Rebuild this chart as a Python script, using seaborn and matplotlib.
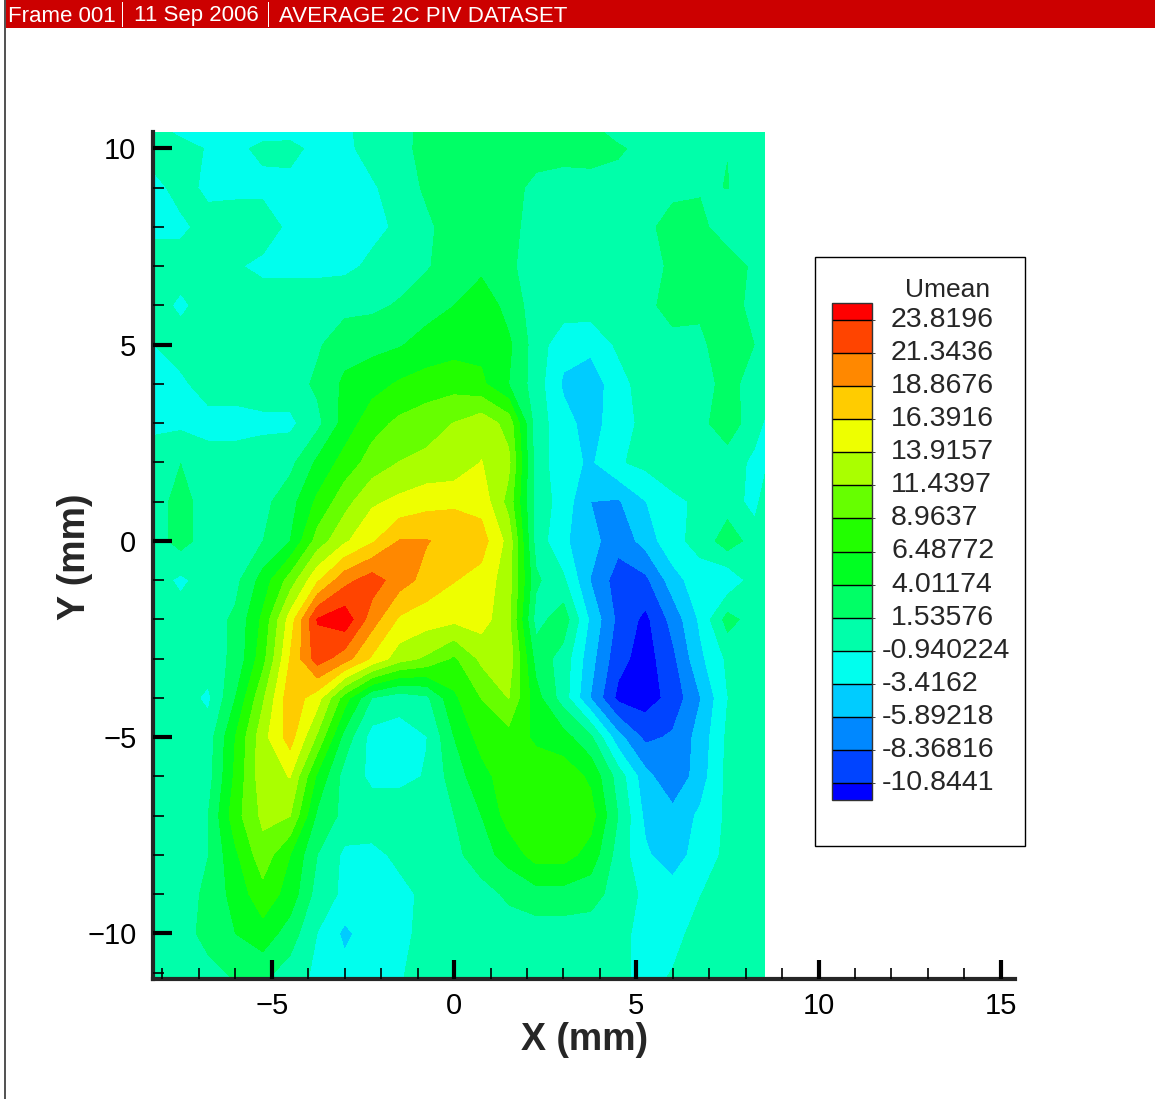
import numpy as np
import seaborn as sns
import matplotlib.pyplot as plt
from matplotlib.colors import ListedColormap, BoundaryNorm
from matplotlib.patches import Rectangle
from matplotlib.ticker import MultipleLocator

x_mm = [-8.25, -7.5, -6.75, -6, -5.25, -4.5, -3.75, -3, -2.25, -1.5, -0.75, 0,
        0.75, 1.5, 2.25, 3, 3.75, 4.5, 5.25, 6, 6.75, 7.5, 8.25, 8.53]
y_mm = [-11.1, -10, -9, -8, -7, -6, -5, -4, -3, -2, -1, 0, 1, 2, 3, 4, 5, 6, 7, 8, 9, 10, 10.4]

row_m11 = [.3, .3, .5, 1.8, 2, .3, -1.5, -2.5, -2, -1.2, .3, .3, .3, .3, .3, .3, .3, -.5, -1.5, -.8, .3, .3, .3, .3]
row_m10 = [.3, .3, 2.5, 4, 5.5, 2.8, -1, -4, -2, -1.5, -.3, .3, .3, .3, .3, .3, .3, 0, -2, -1.5, -.3, .3, .3, .3]
row_m9 = [.3, .5, 2, 5, 8, 5.5, .5, -1.5, -2, -1.5, -.5, 0, .5, 2, 3, 3, 2.5, .5, -1.5, -2, -1, 0, .3, .3]
row_m8 = [.3, .3, 1.5, 6, 10.5, 6.5, 1.5, -1.5, -1.5, -.5, .3, .8, 3, 5, 7.5, 7.5, 5.5, .5, -3, -5, -2, -.5, .3, .3]
row_m7 = [.3, .3, 1.5, 8, 12, 11.5, 3.5, .8, .3, .3, .5, 1.5, 4, 7.5, 8, 8, 7.5, 1.5, -4, -5, -3, -.5, .3, .3]
row_m6 = [.3, .3, .5, 7, 13, 14, 6, .5, -1.5, -1.5, -.8, 2.8, 5.5, 8, 8, 8, 6, .5, -5, -8, -4.6, -.3, .3, .3]
row_m5 = [.3, .3, .3, 6.5, 13, 17.5, 11, 3, -2, -2, -1, 4, 7.5, 8, 6, 5, 2, -5, -9, -8, -5, -.5, .3, .3]
row_m4 = [.3, .3, -1.5, 4, 11, 18, 15, 7.7, 1.5, 0, 1, 6, 9, 11.5, 5, .3, -6, -11.5, -12, -10, -6, -1, .3, .3]
row_m3 = [.3, .3, .5, 2, 8, 16.5, 22.6, 20, 16, 12.5, 11, 8.5, 12, 13, 3, .5, -5, -10, -12, -9, -4, -.5, .3, .3]
row_m2 = [.3, .3, .3, 2, 7, 15, 24, 25.5, 20, 16, 15, 14.5, 15, 12, .5, 3, -4, -9, -11.5, -7.5, -3, 2.5, .3, .3]
row_m1 = [.3, -1.5, .3, .8, 5, 10, 16, 20.5, 22.6, 20, 18, 16.5, 15.5, 12.5, 2, -.5, -6, -9.6, -9, -4.6, -1.8, -3, .3, .3]
row_0 = [.3, 2.5, .3, .5, 1.5, 4, 10, 13.5, 16, 19, 19, 18, 17.5, 13, .5, -3, -5, -7.5, -5, -1.5, -.3, 3, .3, .3]
row_p1 = [.3, 2.5, .3, .3, .8, 3, 7, 10.5, 13.5, 14.5, 15.5, 16, 15.5, 10.5, .5, -2, -5.9, -6.2, -3.5, -1.5, -.5, .3, -1.8, .3]
row_p2 = [.3, 1.5, .3, .3, .3, .8, 4.5, 7.5, 10, 11.5, 12, 12, 14, 12, .3, -2.5, -3.8, -1.2, -.3, .6, 1.5, .3, -1.5, -1.5]
row_p3 = [-1.5, -1.5, -2, -2, -1.5, -1.5, .8, 5, 8, 9.5, 10.5, 11.5, 13, 10.5, .3, -2.5, -4.5, -2, -.3, .3, .8, 3, 0, -1.2]
row_p4 = [-1.5, -1.5, .3, .3, .3, .3, 2, 4.5, 5.5, 6.8, 7.5, 8, 7, 4, .3, -3.8, -4.8, -2, .3, .3, .3, 2.5, .3, .3]
row_p5 = [-1, .3, .3, .3, .3, .3, 1.2, 3, 3.3, 3.8, 5, 5.5, 5.8, 4.5, .3, -2.5, -2.8, -.5, .3, .3, 1, 3, 1.5, .3]
row_p6 = [.3, -1.5, .3, .3, .3, .3, .3, .8, 1, 1.8, 3, 4, 5.8, 3, .3, .3, .3, .3, .5, 3, 2, 3, .5, .3]
row_p7 = [.3, .3, -.9, -.7, -1.5, -1.5, -1.5, -1.5, -.5, .3, 1.3, 2.8, 3.3, 2, .3, .3, .3, .3, .5, 2, 2, 3.5, .8, .3]
row_p8 = [-1.5, -1.5, 0, .3, .3, -1.5, -1.8, -1.8, -1.5, -.6, 1, 2.8, 4, 2.5, .2, .3, .3, .3, .6, 3, 2.5, -.5, .3, .3]
row_p9 = [-1.8, 0, -1.5, -1.5, -1.5, -1.5, -1.8, -1.8, -1.2, 0, 2, 2.8, 3, 2.8, .6, -.2, .3, .3, .3, .6, 1.2, 1.6, .3, .3]
row_p10 = [.3, .3, -1.2, -1.4, -.5, -.4, -1.5, -1.4, -.2, .6, 2.5, 3, 3, 3, 3, 3, 2.8, 2, .5, .3, .3, 1.5, .3, .3]
row_top = [.3, -1.5, -1.5, -1.5, -1.5, -1.5, -1.5, -1.5, .3, .5, 2.5, 3, 3, 3, 3, 3, 2.5, .5, 0, 0, 0, 0, 0, 0]

levels = [-10.8441, -8.36816, -5.89218, -3.4162, -0.940224, 1.53576, 4.01174, 6.48772,
          8.9637, 11.4397, 13.9157, 16.3916, 18.8676, 21.3436, 23.8196]
level_labels = ['-10.8441', '-8.36816', '-5.89218', '-3.4162', '-0.940224', '1.53576', '4.01174', '6.48772',
                '8.9637', '11.4397', '13.9157', '16.3916', '18.8676', '21.3436', '23.8196']
band_colors = ['#0000ff', '#0044ff', '#0088ff', '#00ccff', '#00ffee', '#00ffaa', '#00ff66', '#00ff22',
               '#22ff00', '#66ff00', '#aaff00', '#eeff00', '#ffcc00', '#ff8800', '#ff4400', '#ff0000']

u_mean = np.array([row_m11, row_m10, row_m9, row_m8, row_m7, row_m6, row_m5, row_m4, row_m3, row_m2, row_m1,
                   row_0, row_p1, row_p2, row_p3, row_p4, row_p5, row_p6, row_p7, row_p8, row_p9, row_p10, row_top])

sns.set_style('ticks')
plt.rcParams['font.family'] = ['Liberation Sans', 'DejaVu Sans']

W, H = 1155, 1099
fig = plt.figure(figsize=(W / 100, H / 100), dpi=100)


def box(left, top, right, bottom):
    return [left / W, 1 - bottom / H, (right - left) / W, (bottom - top) / H]


palette = sns.color_palette(band_colors)
cmap = ListedColormap(palette[1:-1]).with_extremes(under=palette[0], over=palette[-1])
norm = BoundaryNorm(levels, cmap.N)

ax = fig.add_axes(box(153, 132, 1015, 979))
cs = ax.contourf(x_mm, y_mm, u_mean, levels=levels, cmap=cmap, norm=norm, extend='both')
ax.set_xlim(-8.26, 15.39)
ax.set_ylim(-11.16, 10.42)
sns.despine(ax=ax)
ax.spines['left'].set_linewidth(3)
ax.spines['bottom'].set_linewidth(3)
ax.set_xticks([-5, 0, 5, 10, 15])
ax.set_yticks([-10, -5, 0, 5, 10])
ax.xaxis.set_minor_locator(MultipleLocator(1))
ax.yaxis.set_minor_locator(MultipleLocator(1))
ax.tick_params(which='major', direction='in', length=14, width=3, color='black',
               labelsize=21, labelcolor='black', pad=9)
ax.tick_params(which='minor', direction='in', length=8, width=1.2, color='black')
ax.tick_params(axis='y', which='major', pad=12)
ax.set_axisbelow(False)

fig.text(585 / W, 1 - 1040 / H, 'X (mm)', fontsize=27, fontweight='bold', ha='center', va='center')
fig.text(75 / W, 1 - 557 / H, 'Y (mm)', fontsize=27, fontweight='bold', rotation=90, ha='center', va='center')

# legend box
fig.add_artist(Rectangle((815 / W, 1 - 846 / H), 210 / W, 589 / H, transform=fig.transFigure,
                         facecolor='white', edgecolor='black', linewidth=1))
cax = fig.add_axes(box(832, 303, 872, 800), zorder=3)
cbar = fig.colorbar(cs, cax=cax, extend='both', extendrect=True, extendfrac=17 / 462,
                    spacing='uniform', drawedges=True, ticks=[])
cbar.dividers.set_color('black')
cbar.dividers.set_linewidth(1)
cbar.outline.set_linewidth(1)
cbar.outline.set_edgecolor('#333333')
for lev, lab in zip(levels, level_labels):
    dx = 10 if lab.startswith('-') else 19
    cax.annotate(lab, xy=(1, lev), xycoords=cax.get_yaxis_transform(), xytext=(dx, 0),
                 textcoords='offset pixels', fontsize=20.5, va='center', ha='left', annotation_clip=False)
fig.text(948 / W, 1 - 290 / H, 'Umean', fontsize=19, ha='center', va='center', zorder=4)

# Tecplot window frame and header
fig.add_artist(Rectangle((0, 1 - 28 / H), 1, 28 / H, transform=fig.transFigure, facecolor='#cc0000', edgecolor='none'))
fig.add_artist(Rectangle((4 / W, 0), 1.5 / W, 1, transform=fig.transFigure, facecolor='#555555', edgecolor='none'))
fig.add_artist(Rectangle((0, 0), 4 / W, 1, transform=fig.transFigure, facecolor='white', edgecolor='none'))
for x_px, s in [(8, 'Frame 001'), (134, '11 Sep 2006'), (279, 'AVERAGE 2C PIV DATASET')]:
    fig.text(x_px / W, 1 - 16 / H, s, color='white', fontsize=16, ha='left', va='center')
for x_px in [122, 268]:
    fig.add_artist(Rectangle((x_px / W, 1 - 27 / H), 1 / W, 25 / H, transform=fig.transFigure,
                             facecolor='white', edgecolor='none'))

fig.savefig('out.png', dpi=100)
